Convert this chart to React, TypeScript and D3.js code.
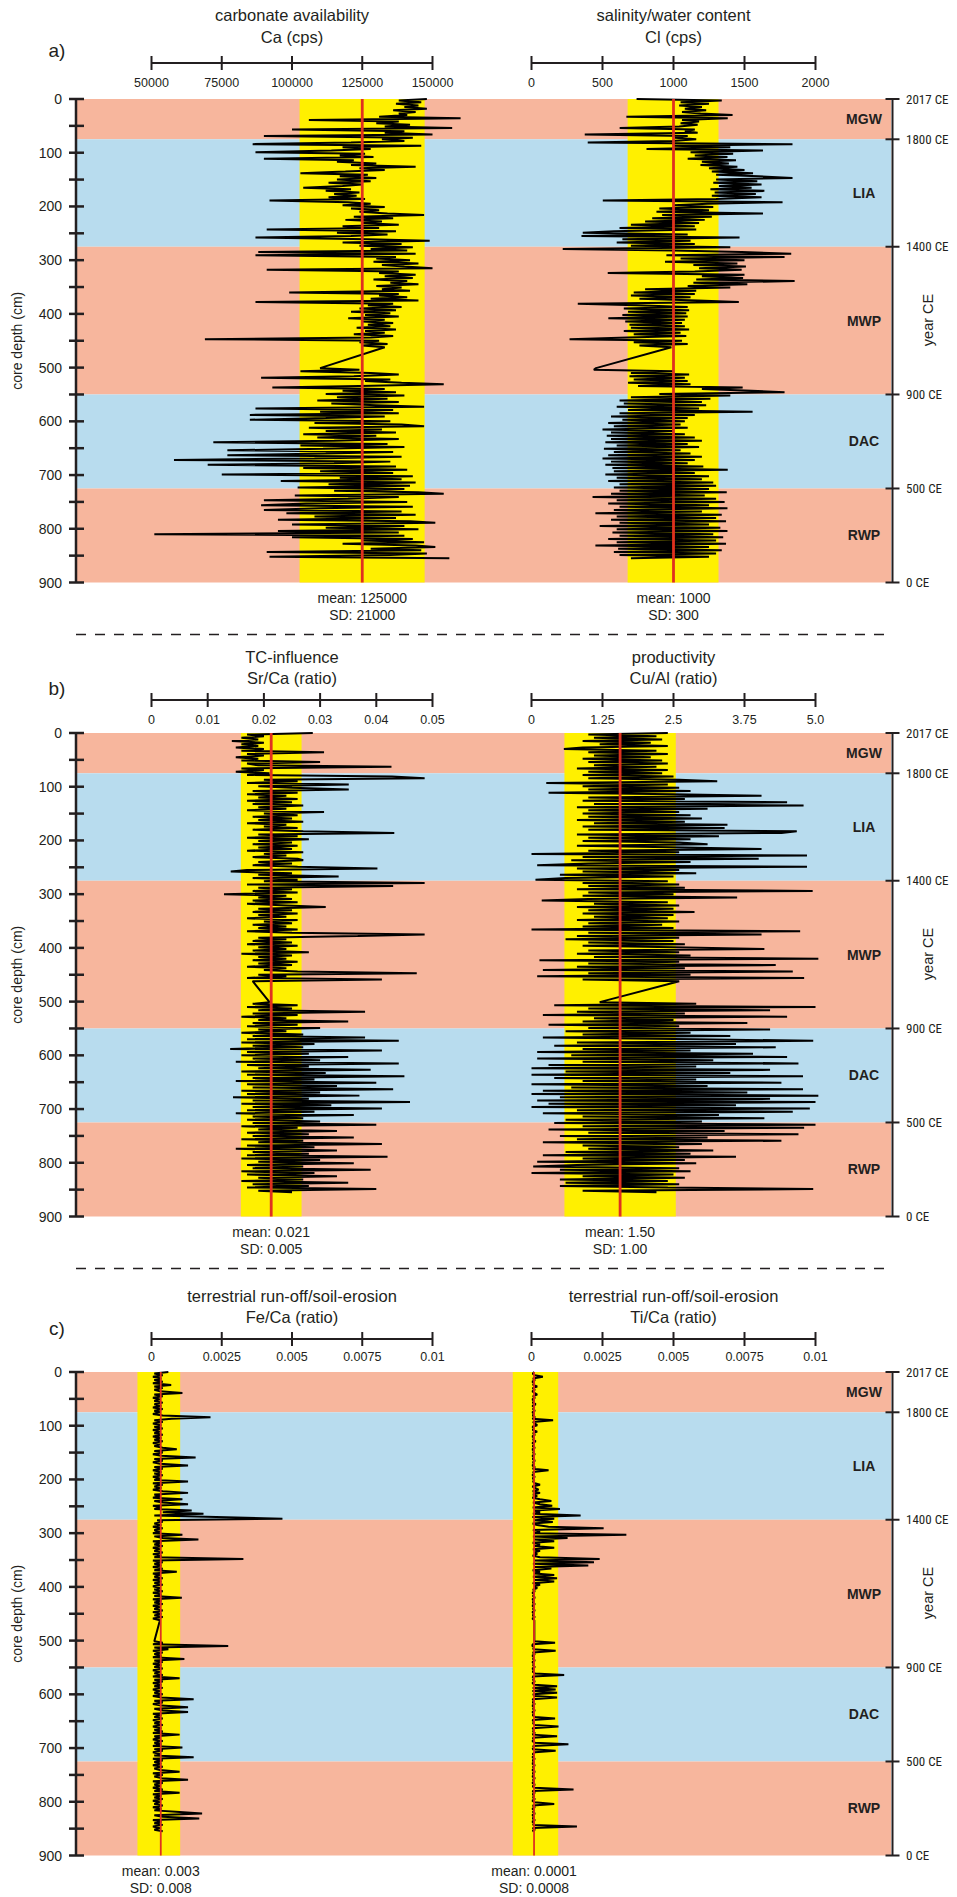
import React from 'react';
import * as d3 from 'd3';

// ---------------- DATA ----------------
const DEPTH_STEP_CM = 3; // sample spacing of the XRF series (index * step = depth)

const depthTicks = [0, 100, 200, 300, 400, 500, 600, 700, 800, 900];
const depthMinorTicks = [50, 150, 250, 350, 450, 550, 650, 750, 850];

const periodNames = ['MGW', 'LIA', 'MWP', 'DAC', 'RWP'];
const periodBounds = [0, 75, 275, 550, 725, 900];
const periodKinds = ['warm', 'cold', 'warm', 'cold', 'warm'];
const yearLabels = ['2017 CE', '1800 CE', '1400 CE', '900 CE', '500 CE', '0 CE'];

// Ca (cps)
const caCps: (number | null)[] = [
  148e3,138e3,146e3,137e3,145e3,140e3,148e3,136e3,144e3,138e3,
  141e3,131e3,160e3,106e3,138e3,130e3,142e3,133e3,157e3,100e3,
  140e3,133e3,150e3,90e3,143e3,132e3,140e3,121e3,86e3,146e3,
  118e3,128e3,114e3,87e3,126e3,117e3,129e3,90e3,122e3,116e3,
  130e3,121e3,144e3,124e3,133e3,119e3,103e3,127e3,117e3,130e3,
  116e3,128e3,113e3,125e3,118e3,104e3,121e3,112e3,124e3,115e3,
  123e3,113e3,126e3,92e3,120e3,128e3,118e3,133e3,121e3,131e3,
  124e3,134e3,147e3,122e3,136e3,119e3,132e3,125e3,138e3,118e3,
  131e3,91e3,137e3,116e3,134e3,121e3,87e3,127e3,149e3,118e3,
  139e3,124e3,143e3,128e3,141e3,88e3,144e3,87e3,137e3,130e3,
  142e3,129e3,145e3,132e3,140e3,150e3,91e3,138e3,131e3,144e3,
  133e3,143e3,129e3,141e3,135e3,145e3,130e3,139e3,132e3,142e3,
  99e3,138e3,131e3,141e3,128e3,145e3,87e3,136e3,127e3,139e3,
  124e3,137e3,121e3,135e3,126e3,138e3,120e3,133e3,125e3,136e3,
  127e3,135e3,123e3,137e3,126e3,133e3,122e3,136e3,128e3,69e3,
  131e3,124e3,134e3,125e3,133e3,null,null,null,null,null,
  null,null,null,null,null,null,null,110e3,124e3,103e3,
  128e3,138e3,122e3,89e3,135e3,126e3,139e3,154e3,124e3,93e3,
  133e3,118e3,137e3,112e3,140e3,116e3,134e3,109e3,138e3,114e3,
  130e3,147e3,87e3,136e3,110e3,138e3,85e3,133e3,112e3,85e3,
  135e3,108e3,139e3,147e3,106e3,132e3,112e3,137e3,104e3,130e3,
  109e3,138e3,115e3,72e3,134e3,103e3,140e3,111e3,77e3,136e3,
  112e3,77e3,139e3,108e3,58e3,135e3,115e3,70e3,137e3,104e3,
  141e3,110e3,136e3,75e3,143e3,117e3,139e3,96e3,144e3,113e3,
  142e3,102e3,140e3,115e3,145e3,154e3,101e3,138e3,120e3,90e3,
  141e3,105e3,89e3,143e3,110e3,90e3,139e3,98e3,144e3,108e3,
  137e3,95e3,142e3,151e3,100e3,140e3,112e3,145e3,95e3,138e3,
  51e3,140e3,100e3,143e3,125e3,147e3,118e3,144e3,151e3,128e3,
  146e3,91e3,148e3,135e3,92e3,156e3,
];

// Cl (cps)
const clCps: (number | null)[] = [
  740,1340,1050,1250,1040,1200,1080,1230,1060,1190,
  1416,668,1382,1060,1180,1050,1170,1040,621,1150,
  1080,1170,375,1100,1010,1160,990,396,1838,1000,
  1400,810,1630,1120,1420,1150,1380,1100,1440,1200,
  1390,1190,1450,1250,1500,1270,1560,1300,1600,1838,
  1300,1590,1280,1620,1320,1550,1260,1640,1290,1580,
  1270,1620,1300,502,1768,1240,1000,1280,900,1250,
  880,1630,920,1270,850,1220,800,1180,700,1150,
  620,1160,580,361,1100,352,1465,640,1120,600,
  1150,700,1400,220,1000,1480,1829,950,1782,1050,
  1500,940,1450,1140,1510,1180,1480,1150,537,1500,
  1200,1490,1160,1853,1140,1520,1100,1400,800,1160,
  720,1150,700,1120,760,1170,1460,326,740,1100,
  650,1110,680,1090,640,1100,541,1080,660,1060,
  690,1080,700,1110,650,1050,720,1090,680,268,
  1060,720,1100,760,985,null,null,null,null,null,
  null,null,null,null,null,null,null,454,439,1000,
  700,1110,690,1080,720,1100,680,1120,750,1487,
  1200,1550,1782,900,1400,700,1260,620,1200,650,
  1230,600,1180,680,1557,620,1150,560,1100,640,
  1080,540,1050,580,1100,500,1000,560,1080,530,
  1150,560,1200,520,1100,600,1180,510,1050,580,
  1120,540,1200,500,1150,560,1100,520,1210,570,
  1382,580,1150,520,1250,600,1200,540,1280,620,
  1300,580,1250,620,1375,560,1220,430,1300,600,
  1360,540,1250,620,1380,580,1200,450,1340,600,
  1300,560,1370,620,1250,480,1330,600,1380,570,
  1280,620,1350,540,1300,600,1370,450,1250,610,
  1340,580,1300,620,1250,700,
];

// Sr/Ca (ratio)
const srCa: (number | null)[] = [
  28.7e-3,17e-3,20e-3,16e-3,19e-3,14.3e-3,20e-3,16e-3,19e-3,15e-3,
  20e-3,16e-3,30.7e-3,17e-3,20e-3,15e-3,19e-3,16e-3,30e-3,17e-3,
  19e-3,42.7e-3,16e-3,20e-3,15e-3,21e-3,17e-3,42.8e-3,48.6e-3,20e-3,
  26e-3,17e-3,35.1e-3,19e-3,25e-3,35.1e-3,18e-3,26e-3,17e-3,24e-3,
  19e-3,26e-3,17e-3,25e-3,18e-3,27e-3,19e-3,24e-3,17e-3,30.7e-3,
  20e-3,26e-3,18e-3,25e-3,19e-3,27e-3,17e-3,24e-3,20e-3,26e-3,
  18e-3,27e-3,43.2e-3,19e-3,26e-3,17e-3,28e-3,19e-3,25e-3,18e-3,
  26e-3,19e-3,25e-3,17e-3,27e-3,20e-3,24e-3,18e-3,26e-3,27e-3,
  19e-3,25e-3,18e-3,26e-3,40.2e-3,17e-3,14.1e-3,25e-3,19e-3,33.3e-3,
  18e-3,26e-3,20e-3,48.6e-3,17e-3,43e-3,19e-3,25e-3,18e-3,26e-3,
  12.9e-3,24e-3,19e-3,25e-3,18e-3,26e-3,17e-3,24e-3,31e-3,19e-3,
  25e-3,18e-3,26e-3,19e-3,24e-3,17e-3,26e-3,20e-3,25e-3,18e-3,
  24e-3,19e-3,26e-3,17e-3,25e-3,48.6e-3,36.7e-3,19e-3,24e-3,18e-3,
  25e-3,17e-3,26e-3,19e-3,24e-3,18e-3,28e-3,16e-3,25e-3,19e-3,
  24e-3,18e-3,26e-3,19e-3,25e-3,17e-3,24e-3,20e-3,26e-3,47.2e-3,
  19e-3,24e-3,17e-3,41e-3,18e-3,null,null,null,null,null,
  null,null,null,null,null,null,null,21e-3,18e-3,26e-3,
  17e-3,25e-3,19e-3,38e-3,18e-3,26e-3,16e-3,24e-3,19e-3,35e-3,
  18e-3,26e-3,17e-3,30e-3,19e-3,24e-3,16e-3,27e-3,18e-3,38e-3,
  17e-3,44e-3,16e-3,29e-3,18e-3,27e-3,14e-3,41e-3,17e-3,28e-3,
  16e-3,35e-3,18e-3,30e-3,15e-3,44e-3,17e-3,28e-3,19e-3,39e-3,
  16e-3,31e-3,17e-3,45e-3,18e-3,29e-3,15e-3,40e-3,17e-3,33e-3,
  18e-3,43e-3,16e-3,30e-3,17e-3,37e-3,14.5e-3,28e-3,18e-3,46e-3,
  16e-3,32e-3,18e-3,41e-3,17e-3,29e-3,15e-3,36e-3,18e-3,27e-3,
  17e-3,30e-3,18e-3,40e-3,16e-3,26e-3,19e-3,33e-3,17e-3,28e-3,
  18e-3,36e-3,16e-3,27e-3,19e-3,41e-3,17e-3,29e-3,15e-3,33e-3,
  18e-3,28e-3,17e-3,42e-3,16e-3,30e-3,19e-3,36e-3,17e-3,27e-3,
  18e-3,39e-3,16e-3,29e-3,17e-3,33e-3,19e-3,27e-3,16e-3,35e-3,
  18e-3,28e-3,17e-3,40e-3,19e-3,25e-3,
];

// Cu/Al (ratio)
const cuAl: (number | null)[] = [
  2.4,1.0,2.2,1.1,2.3,0.9,2.1,1.2,2.4,0.9,
  0.57,2.2,1.0,2.4,1.1,2.1,0.9,2.3,1.0,2.4,
  1.1,2.2,0.8,2.4,1.0,2.3,0.9,2.5,1.0,2.6,
  3.27,0.26,2.4,0.9,2.6,1.0,2.8,0.3,2.5,4.05,
  1.0,2.7,0.9,4.5,1.1,4.79,0.8,3.1,1.0,2.6,
  0.9,2.8,1.0,3.0,0.8,2.7,1.1,3.45,0.9,3.4,
  1.0,4.67,4.4,0.8,3.3,1.0,2.8,0.9,2.6,3.1,
  0.8,2.7,4.05,1.0,2.6,0.0,4.85,0.9,4.0,0.7,
  2.8,1.0,0.1,4.85,0.8,2.6,0.9,2.9,0.5,2.5,
  0.6,0.07,2.4,0.9,2.6,1.0,2.7,0.8,4.95,1.0,
  2.5,0.9,3.62,1.0,0.18,2.4,1.1,2.6,0.8,2.5,
  1.0,2.87,0.9,2.5,1.1,2.4,0.8,2.6,1.0,2.3,
  0.9,2.5,0.0,4.73,1.0,4.05,0.8,2.6,0.6,2.5,
  1.0,2.7,0.9,2.5,4.1,1.0,2.6,0.8,2.8,1.1,
  5.05,0.14,2.6,1.0,4.3,0.8,2.7,0.2,4.6,1.0,
  2.8,0.1,4.8,0.9,2.6,null,null,null,null,null,
  null,null,null,null,null,null,null,1.2,2.9,0.4,
  5.0,1.0,4.2,0.8,2.7,0.2,4.5,1.1,2.5,0.9,
  3.8,0.3,2.6,1.0,4.2,0.6,2.8,0.9,3.5,0.2,
  2.9,4.96,0.8,3.6,0.4,4.3,0.9,2.8,0.1,3.9,
  0.7,4.5,0.1,3.2,0.9,4.7,0.3,2.9,0.0,4.2,
  0.6,3.5,0.0,4.78,0.4,2.9,0.9,4.4,0.0,3.1,
  0.7,4.78,0.2,3.8,0.0,5.05,0.5,4.2,0.1,5.0,
  0.3,3.6,0.0,4.9,0.8,4.6,0.2,3.3,0.9,4.1,
  0.6,3.0,0.4,5.0,0.9,4.8,0.3,3.4,1.0,4.7,
  0.5,3.1,0.8,4.4,0.2,3.0,0.9,2.6,1.0,3.2,
  0.6,2.8,0.2,3.6,0.9,2.7,0.1,2.9,0.8,0.03,
  2.6,0.5,2.8,0.0,2.5,0.9,2.7,0.5,2.4,0.6,
  2.6,0.5,2.4,4.96,0.9,2.2,
];

// Fe/Ca (ratio)
const feCa: (number | null)[] = [
  6e-4,1e-4,4e-4,0.5e-4,3.5e-4,1e-4,4e-4,0.5e-4,7e-4,1e-4,
  4e-4,1e-4,3e-4,11e-4,1e-4,4e-4,0.5e-4,3e-4,1e-4,4e-4,
  1e-4,3.5e-4,0.5e-4,4e-4,1e-4,3e-4,0.5e-4,4e-4,21e-4,7.2e-4,
  1e-4,4e-4,0.5e-4,3.5e-4,1e-4,4e-4,0.5e-4,3e-4,1e-4,4e-4,
  0.5e-4,3.5e-4,1e-4,4e-4,0.5e-4,3e-4,1e-4,4e-4,9e-4,1e-4,
  4e-4,0.5e-4,3.5e-4,15.7e-4,1e-4,4e-4,0.5e-4,3e-4,13e-4,1e-4,
  4e-4,0.5e-4,3.5e-4,1e-4,4e-4,0.5e-4,3e-4,1e-4,13e-4,0.5e-4,
  4e-4,1e-4,3.5e-4,0.5e-4,4e-4,13e-4,1e-4,3e-4,0.5e-4,11e-4,
  1e-4,4e-4,13e-4,0.5e-4,3.5e-4,1e-4,14.3e-4,4e-4,18.5e-4,1e-4,
  23e-4,46.6e-4,2e-4,4e-4,1e-4,3.5e-4,0.5e-4,4e-4,1e-4,3e-4,
  0.5e-4,11e-4,1e-4,4e-4,16.7e-4,0.5e-4,3.5e-4,1e-4,4e-4,0.5e-4,
  3e-4,1e-4,4e-4,0.5e-4,3.5e-4,1e-4,32.7e-4,0.5e-4,4e-4,1e-4,
  3.5e-4,0.5e-4,4e-4,1e-4,9e-4,0.5e-4,3e-4,1e-4,4e-4,0.5e-4,
  3.5e-4,1e-4,4e-4,0.5e-4,3e-4,1e-4,4e-4,0.5e-4,3.5e-4,1e-4,
  10.8e-4,0.5e-4,3.5e-4,1e-4,4e-4,0.5e-4,3e-4,1e-4,4e-4,0.5e-4,
  3.5e-4,1e-4,4e-4,0.5e-4,3e-4,null,null,null,null,null,
  null,null,null,null,null,null,null,1e-4,4e-4,0.5e-4,
  27.3e-4,1e-4,6e-4,0.5e-4,4e-4,1e-4,3.5e-4,0.5e-4,11.7e-4,1e-4,
  4e-4,0.5e-4,3.5e-4,1e-4,4e-4,0.5e-4,3e-4,1e-4,4e-4,0.5e-4,
  10e-4,1e-4,4e-4,0.5e-4,3.5e-4,1e-4,4e-4,0.5e-4,3e-4,1e-4,
  4e-4,0.5e-4,3.5e-4,15e-4,1e-4,4e-4,0.5e-4,3.5e-4,13e-4,1e-4,
  4e-4,13e-4,0.5e-4,3.5e-4,1e-4,4e-4,0.5e-4,3e-4,1e-4,4e-4,
  0.5e-4,3.5e-4,1e-4,4e-4,0.5e-4,10e-4,1e-4,3e-4,0.5e-4,4e-4,
  1e-4,3.5e-4,0.5e-4,11e-4,1e-4,4e-4,0.5e-4,3e-4,1e-4,15e-4,
  0.5e-4,4e-4,1e-4,3.5e-4,0.5e-4,4e-4,1e-4,3e-4,10e-4,0.5e-4,
  4e-4,1e-4,3.5e-4,13e-4,0.5e-4,4e-4,1e-4,3e-4,0.5e-4,4e-4,
  1e-4,10e-4,0.5e-4,3.5e-4,1e-4,4e-4,0.5e-4,3e-4,1e-4,4e-4,
  0.5e-4,3.5e-4,1e-4,10e-4,18e-4,1e-4,4e-4,17e-4,0.5e-4,3.5e-4,
  1e-4,4e-4,0.5e-4,3e-4,1e-4,4e-4,
];

// Ti/Ca (ratio)
const tiCa: (number | null)[] = [
  1e-4,0.4e-4,1.2e-4,4e-4,0.5e-4,1.2e-4,0.3e-4,1e-4,0.5e-4,2e-4,
  0.4e-4,1.2e-4,0.3e-4,1e-4,2e-4,0.5e-4,1.2e-4,0.3e-4,1e-4,0.4e-4,
  1.5e-4,0.3e-4,1e-4,0.5e-4,1.2e-4,0.3e-4,1e-4,0.4e-4,1.2e-4,0.3e-4,
  7.6e-4,0.5e-4,1.2e-4,2e-4,0.3e-4,1e-4,0.4e-4,2e-4,0.5e-4,1.2e-4,
  0.3e-4,1e-4,0.5e-4,1.5e-4,0.3e-4,1e-4,0.4e-4,1.2e-4,0.3e-4,1e-4,
  0.5e-4,1.2e-4,0.3e-4,1e-4,0.4e-4,1.2e-4,0.5e-4,1e-4,0.3e-4,1.2e-4,
  0.4e-4,6e-4,0.5e-4,1e-4,0.3e-4,1.2e-4,0.4e-4,1e-4,0.5e-4,1.2e-4,
  3e-4,0.3e-4,1.2e-4,2.5e-4,0.4e-4,3e-4,0.5e-4,2e-4,0.3e-4,3e-4,
  7e-4,0.5e-4,3e-4,7.3e-4,0.4e-4,10e-4,1e-4,3e-4,0.5e-4,17.3e-4,
  0.3e-4,8e-4,1e-4,7.5e-4,0.4e-4,2e-4,6e-4,25.4e-4,0.5e-4,3e-4,
  1e-4,33.4e-4,0.5e-4,12.7e-4,1e-4,8e-4,0.4e-4,3e-4,1e-4,8e-4,
  0.5e-4,3e-4,1e-4,2e-4,0.4e-4,3e-4,24e-4,1e-4,22e-4,0.5e-4,
  20e-4,1e-4,7e-4,0.4e-4,3e-4,1e-4,8e-4,0.5e-4,9e-4,1e-4,
  8e-4,0.4e-4,3e-4,1e-4,2e-4,0.5e-4,1.2e-4,0.3e-4,1e-4,0.5e-4,
  1.2e-4,0.3e-4,1e-4,0.4e-4,1.2e-4,0.3e-4,1e-4,0.5e-4,1.2e-4,0.3e-4,
  1e-4,0.4e-4,1.2e-4,0.3e-4,1e-4,null,null,null,null,null,
  null,null,null,null,null,null,null,1e-4,8.3e-4,0.4e-4,
  0.3e-4,1e-4,0.5e-4,8.5e-4,0.4e-4,1.2e-4,0.3e-4,1e-4,0.5e-4,1.2e-4,
  0.3e-4,1e-4,0.5e-4,1.2e-4,0.3e-4,1e-4,0.4e-4,1.2e-4,11.5e-4,0.3e-4,
  1e-4,0.5e-4,1.2e-4,0.3e-4,1e-4,9e-4,0.4e-4,8.5e-4,0.3e-4,9e-4,
  0.5e-4,1.2e-4,9e-4,0.3e-4,1e-4,0.4e-4,1.2e-4,0.3e-4,1e-4,0.5e-4,
  1.2e-4,0.3e-4,1e-4,0.4e-4,1.2e-4,8.3e-4,0.3e-4,1e-4,0.5e-4,1.2e-4,
  9.5e-4,0.3e-4,1e-4,0.5e-4,1.2e-4,0.3e-4,9e-4,0.4e-4,1e-4,0.3e-4,
  1.2e-4,13e-4,0.5e-4,1e-4,0.3e-4,8.5e-4,1.2e-4,0.4e-4,1e-4,0.3e-4,
  1.2e-4,0.4e-4,1e-4,0.3e-4,1.2e-4,0.5e-4,1e-4,0.3e-4,1.2e-4,0.4e-4,
  1e-4,0.3e-4,1.2e-4,0.5e-4,1e-4,0.3e-4,1.2e-4,0.4e-4,1e-4,14.8e-4,
  0.3e-4,1.2e-4,0.4e-4,1e-4,0.5e-4,1.2e-4,0.3e-4,1e-4,8e-4,0.4e-4,
  1.2e-4,0.3e-4,1e-4,0.5e-4,1.2e-4,0.3e-4,1e-4,0.4e-4,1.2e-4,0.3e-4,
  1e-4,0.5e-4,16e-4,0.4e-4,1.2e-4,0.3e-4,
];

// axis ticks
const caTicks = [50000, 75000, 100000, 125000, 150000];
const clTicks = [0, 500, 1000, 1500, 2000];
const srTicks = [0, 0.01, 0.02, 0.03, 0.04, 0.05];
const cuTicks = [0, 1.25, 2.5, 3.75, 5.0];
const cuTickLabels = ['0', '1.25', '2.5', '3.75', '5.0'];
const ratioTicks = [0, 0.0025, 0.005, 0.0075, 0.01];

// plotted mean line and ±SD band (as drawn), plus printed statistics
const caStats = { mean: 125000, band: [102700, 147200], text: ['mean: 125000', 'SD: 21000'] };
const clStats = { mean: 1000, band: [677, 1317], text: ['mean: 1000', 'SD: 300'] };
const srStats = { mean: 0.0213, band: [0.0159, 0.0267], text: ['mean: 0.021', 'SD: 0.005'] };
const cuStats = { mean: 1.56, band: [0.58, 2.54], text: ['mean: 1.50', 'SD: 1.00'] };
const feStats = { mean: 0.00033, band: [-0.0005, 0.00102], text: ['mean: 0.003', 'SD: 0.008'] };
const tiStats = { mean: 0.00009, band: [-0.00066, 0.00094], text: ['mean: 0.0001', 'SD: 0.0008'] };

// ---------------- LAYOUT / STYLE ----------------
const W = 957;
const H = 1897;
const FONT = '"Liberation Sans", Arial, Helvetica, sans-serif';
const NARROW = '"Liberation Sans Narrow", "Arial Narrow", "Roboto Condensed", "Liberation Sans", sans-serif';
const INK = '#231f20';
const WARM = '#f7b69d';
const COLD = '#b8dcee';
const YELLOW = '#fff000';
const RED = '#e0311f';

const PLOT_X0 = 77;
const PLOT_X1 = 891;
const DEPTH_AXIS_X = 76;
const YEAR_AXIS_X = 892.5;
const LEFT_RANGE: [number, number] = [151.5, 432.5];
const RIGHT_RANGE: [number, number] = [531.5, 815.5];
const PLOT_TOP = 99;
const PLOT_BOTTOM = 582.5;

type Stats = { mean: number; band: number[]; text: string[] };
type Track = {
  title: string;
  unit: string;
  values: (number | null)[];
  domain: [number, number];
  ticks: number[];
  tickLabels: string[];
  stats: Stats;
  meanWidth: number;
};
type Panel = {
  tag: string;
  top: number;
  rows: { title1: number; title2: number; axis: number; tickLab: number; tag: number };
  left: Track;
  right: Track;
};

const panels: Panel[] = [
  {
    tag: 'a)',
    top: 0,
    rows: { title1: 15, title2: 37, axis: 63, tickLab: 83, tag: 50 },
    left: { title: 'carbonate availability', unit: 'Ca (cps)', values: caCps, domain: [50000, 150000], ticks: caTicks, tickLabels: caTicks.map(String), stats: caStats, meanWidth: 2.8 },
    right: { title: 'salinity/water content', unit: 'Cl (cps)', values: clCps, domain: [0, 2000], ticks: clTicks, tickLabels: clTicks.map(String), stats: clStats, meanWidth: 2.8 },
  },
  {
    tag: 'b)',
    top: 634,
    rows: { title1: 23, title2: 44, axis: 66, tickLab: 86, tag: 54 },
    left: { title: 'TC-influence', unit: 'Sr/Ca (ratio)', values: srCa, domain: [0, 0.05], ticks: srTicks, tickLabels: srTicks.map(String), stats: srStats, meanWidth: 2.8 },
    right: { title: 'productivity', unit: 'Cu/Al (ratio)', values: cuAl, domain: [0, 5], ticks: cuTicks, tickLabels: cuTickLabels, stats: cuStats, meanWidth: 2.8 },
  },
  {
    tag: 'c)',
    top: 1273,
    rows: { title1: 23, title2: 44, axis: 66, tickLab: 84, tag: 55 },
    left: { title: 'terrestrial run-off/soil-erosion', unit: 'Fe/Ca (ratio)', values: feCa, domain: [0, 0.01], ticks: ratioTicks, tickLabels: ratioTicks.map(String), stats: feStats, meanWidth: 1.8 },
    right: { title: 'terrestrial run-off/soil-erosion', unit: 'Ti/Ca (ratio)', values: tiCa, domain: [0, 0.01], ticks: ratioTicks, tickLabels: ratioTicks.map(String), stats: tiStats, meanWidth: 1.8 },
  },
];

function TrackView({ track, range, top, rows, y }: { track: Track; range: [number, number]; top: number; rows: Panel['rows']; y: d3.ScaleLinear<number, number> }) {
  const x = d3.scaleLinear().domain(track.domain).range(range);
  const pts: [number, number][] = [];
  track.values.forEach((v, i) => {
    if (v != null) pts.push([v, i * DEPTH_STEP_CM]);
  });
  const line = d3.line<[number, number]>().x((p) => x(p[0])).y((p) => y(p[1]));
  const cx = (range[0] + range[1]) / 2;
  const y0 = y(0);
  const y1 = y(900);
  const mx = x(track.stats.mean);
  return (
    <g>
      <rect x={x(track.stats.band[0])} y={y0} width={x(track.stats.band[1]) - x(track.stats.band[0])} height={y1 - y0} fill={YELLOW} />
      <path d={line(pts) || ''} fill="none" stroke="#000" strokeWidth={2} strokeLinejoin="bevel" />
      <line x1={mx} x2={mx} y1={y0} y2={y1} stroke={RED} strokeWidth={track.meanWidth} />
      <text x={cx} y={top + rows.title1} textAnchor="middle" dominantBaseline="central" fontSize={16.5} fill={INK}>{track.title}</text>
      <text x={cx} y={top + rows.title2} textAnchor="middle" dominantBaseline="central" fontSize={16.5} fill={INK}>{track.unit}</text>
      <line x1={range[0]} x2={range[1]} y1={top + rows.axis} y2={top + rows.axis} stroke={INK} strokeWidth={2} />
      {track.ticks.map((t, i) => (
        <g key={i}>
          <line x1={x(t)} x2={x(t)} y1={top + rows.axis - 7} y2={top + rows.axis + 7} stroke={INK} strokeWidth={2} />
          <text x={x(t)} y={top + rows.tickLab} textAnchor="middle" dominantBaseline="central" fontSize={12.5} fill={INK}>{track.tickLabels[i]}</text>
        </g>
      ))}
      <text x={mx} y={y1 + 15} textAnchor="middle" dominantBaseline="central" fontSize={14} fill={INK}>{track.stats.text[0]}</text>
      <text x={mx} y={y1 + 32} textAnchor="middle" dominantBaseline="central" fontSize={14} fill={INK}>{track.stats.text[1]}</text>
    </g>
  );
}

function PanelView({ panel, last }: { panel: Panel; last: boolean }) {
  const y = d3.scaleLinear().domain([0, 900]).range([panel.top + PLOT_TOP, panel.top + PLOT_BOTTOM]);
  const y0 = y(0);
  const y1 = y(900);
  return (
    <g>
      {periodNames.map((name, i) => (
        <rect key={name} x={PLOT_X0} width={PLOT_X1 - PLOT_X0} y={y(periodBounds[i])} height={y(periodBounds[i + 1]) - y(periodBounds[i])} fill={periodKinds[i] === 'warm' ? WARM : COLD} />
      ))}
      <TrackView track={panel.left} range={LEFT_RANGE} top={panel.top} rows={panel.rows} y={y} />
      <TrackView track={panel.right} range={RIGHT_RANGE} top={panel.top} rows={panel.rows} y={y} />
      {periodNames.map((name, i) => (
        <text key={'p' + name} x={864} y={y((periodBounds[i] + periodBounds[i + 1]) / 2)} textAnchor="middle" dominantBaseline="central" fontSize={14} fontWeight="bold" fill={INK}>{name}</text>
      ))}
      {/* depth axis */}
      <line x1={DEPTH_AXIS_X} x2={DEPTH_AXIS_X} y1={y0} y2={y1} stroke={INK} strokeWidth={2.5} />
      {depthTicks.map((d) => (
        <g key={'d' + d}>
          <line x1={69} x2={84} y1={y(d)} y2={y(d)} stroke={INK} strokeWidth={2.5} />
          <text x={62} y={y(d)} textAnchor="end" dominantBaseline="central" fontSize={14} fill={INK}>{d}</text>
        </g>
      ))}
      {depthMinorTicks.map((d) => (
        <line key={'m' + d} x1={69} x2={84} y1={y(d)} y2={y(d)} stroke={INK} strokeWidth={2.5} />
      ))}
      <text transform={`translate(17,${(y0 + y1) / 2}) rotate(-90)`} textAnchor="middle" dominantBaseline="central" fontSize={14} fill={INK}>core depth (cm)</text>
      {/* year axis */}
      <line x1={YEAR_AXIS_X} x2={YEAR_AXIS_X} y1={y0} y2={y1} stroke={INK} strokeWidth={2} />
      {periodBounds.map((d, i) => (
        <g key={'y' + d}>
          <line x1={YEAR_AXIS_X - 7} x2={YEAR_AXIS_X + 7} y1={y(d)} y2={y(d)} stroke={INK} strokeWidth={2} />
          <text x={906} y={y(d)} dominantBaseline="central" fontSize={13} fontFamily={NARROW} fill={INK}>{yearLabels[i]}</text>
        </g>
      ))}
      <text transform={`translate(928,${panel.top + 320}) rotate(-90)`} textAnchor="middle" dominantBaseline="central" fontSize={14.5} fill={INK}>year CE</text>
      <text x={57} y={panel.top + panel.rows.tag} textAnchor="middle" dominantBaseline="central" fontSize={19} fill={INK}>{panel.tag}</text>
      {!last && (
        <line x1={DEPTH_AXIS_X} x2={888} y1={y1 + 52} y2={y1 + 52} stroke={INK} strokeWidth={1.6} strokeDasharray="10,9" />
      )}
    </g>
  );
}

export default function App() {
  return (
    <svg width={W} height={H} viewBox={`0 0 ${W} ${H}`} style={{ position: 'absolute', left: 0, top: 0, background: '#fff' }} fontFamily={FONT}>
      <rect x={0} y={0} width={W} height={H} fill="#fff" />
      {panels.map((p, i) => (
        <PanelView key={p.tag} panel={p} last={i === panels.length - 1} />
      ))}
    </svg>
  );
}
